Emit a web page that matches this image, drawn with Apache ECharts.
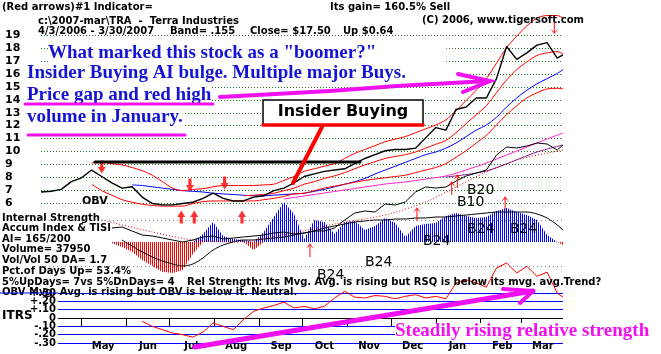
<!DOCTYPE html>
<html>
<head>
<meta charset="utf-8">
<title>TRA - Terra Industries</title>
<script src="https://cdn.jsdelivr.net/npm/echarts@6/dist/echarts.min.js"></script>
<style>
html,body{margin:0;padding:0;background:#fff;}
#chart{width:661px;height:354px;}
</style>
</head>
<body>
<div id="chart"></div>
<script>
// weekly samples, 4/3/2006 - 3/30/2007
var weeks = ['2006-04-03','2006-04-10','2006-04-17','2006-04-24','2006-05-01','2006-05-08','2006-05-15','2006-05-22','2006-05-29','2006-06-05',
  '2006-06-12','2006-06-19','2006-06-26','2006-07-03','2006-07-10','2006-07-17','2006-07-24','2006-07-31','2006-08-07','2006-08-14',
  '2006-08-21','2006-08-28','2006-09-04','2006-09-11','2006-09-18','2006-09-25','2006-10-02','2006-10-09','2006-10-16','2006-10-23',
  '2006-10-30','2006-11-06','2006-11-13','2006-11-20','2006-11-27','2006-12-04','2006-12-11','2006-12-18','2006-12-25','2007-01-01',
  '2007-01-08','2007-01-15','2007-01-22','2007-01-29','2007-02-05','2007-02-12','2007-02-19','2007-02-26','2007-03-05','2007-03-12',
  '2007-03-19','2007-03-26','2007-03-30'];

var price = [6.85,6.9,7.05,7.65,7.95,8.55,8.05,7.55,7.15,7.25,
  6.45,5.95,5.85,5.85,5.95,6.05,6.35,6.75,6.35,6.15,
  6.15,6.45,6.55,6.95,7.15,7.55,8.05,8.25,8.45,8.55,
  8.65,9.05,9.45,9.75,10.05,10.15,10.15,10.25,11.05,11.85,
  11.65,13.25,13.45,14.15,14.15,15.65,18.15,17.15,17.65,18.25,
  18.45,17.25,17.5];

var bandUpper = [null,null,null,null,null,9.1,9.15,9.05,8.95,8.75,
  8.5,8.15,7.65,7.15,6.95,7.05,7.1,7.25,7.35,7.35,
  7.35,7.35,7.4,7.45,7.75,8.05,8.45,8.65,8.85,9.05,
  9.45,9.85,10.15,10.45,10.75,10.95,11.15,11.45,11.75,12.05,
  12.45,13.15,13.95,14.75,15.65,16.85,18.05,18.95,19.75,20.35,
  20.55,20.55,20.35];

var bandLower = [null,null,null,null,null,7.45,6.95,6.6,6.25,6.05,
  5.9,5.8,5.75,5.75,5.75,5.95,6.1,6.15,6.15,6.15,
  6.15,6.15,6.25,6.35,6.5,6.7,6.75,6.95,7.15,7.3,
  7.45,7.6,7.75,7.85,7.95,8.05,8.15,8.35,8.55,8.75,
  9.05,9.55,10.05,10.65,11.25,12.05,12.85,13.55,14.15,14.55,
  14.85,14.9,14.85];

var ma21 = [null,null,null,null,null,null,null,null,null,null,
  null,null,null,null,null,null,null,null,null,null,
  6.55,6.6,6.65,6.75,6.95,7.15,7.45,7.65,7.9,8.1,
  8.35,8.65,8.95,9.2,9.45,9.6,9.75,9.95,10.25,10.55,
  10.85,11.45,12.15,12.85,13.55,14.55,15.55,16.35,16.95,17.45,
  17.65,17.75,17.55];

var ma50 = [null,null,null,null,null,null,null,null,null,7.4,
  7.35,7.25,7.15,7.05,6.95,6.9,6.85,6.75,6.7,6.65,
  6.6,6.55,6.55,6.6,6.65,6.7,6.75,6.9,7.05,7.25,
  7.45,7.65,7.9,8.25,8.55,8.85,9.15,9.45,9.75,9.95,
  10.25,10.65,11.15,11.65,12.05,12.65,13.45,14.15,14.75,15.25,
  15.65,16.05,16.35];

// accumulation index (stripes) and the internal strength lines
var accum = [null,null,null,null,null,null,null,-1,-5,-10,
  -18,-24,-30,-31,-28,-12,8,20,6,3,
  2,-8,10,25,40,28,3,22,20,8,
  20,21,12,16,24,19,5,16,18,19,
  26,29,26,24,25,31,34,30,27,22,
  7,0,-3];

var tisi = [null,null,null,null,null,null,null,14,15,11,
  7,6,4,2,0,2,5,6,3,4,
  5,6,7,9,10,8,9,11,11,14,
  22,29,31,30,38,37,40,50,55,54,
  55,61,66,69,72,87,95,94,96,99,
  98,92,97];

var tisiAvg = [null,null,null,null,null,null,null,null,2,-4,
  -10,-15,-19,-22,-24,-22,-16,-8,-3,0,
  2,2,3,4,5,7,9,11,14,16,
  18,20,21,22,22,23,23,24,24,25,
  25,26,27,28,29,30,30,30,30,28,
  24,17,12];

var obvAvg = [null,null,null,null,null,null,22,null,null,null,
  null,10,null,null,null,2,null,null,null,0,
  null,null,null,null,7,null,null,null,null,18,
  null,null,null,null,27,null,null,null,40,null,
  null,55,null,null,70,null,null,82,null,null,
  null,null,92];

var pinkLine = [null,null,null,null,null,null,null,null,null,null,
  null,null,null,null,null,null,null,null,null,null,
  null,null,null,null,43,null,46,null,49,null,
  52,null,55,null,58,null,60,null,63,null,
  66,null,72,null,79,null,87,null,95,null,
  103,null,109];

var purpleLine = [null,null,null,null,null,null,null,null,null,null,
  null,null,null,null,null,null,null,null,null,null,
  null,null,null,null,null,null,null,null,null,null,
  null,null,null,null,null,null,null,null,null,null,
  65,null,null,null,71,null,null,null,null,90,
  null,null,97];

var itrs = [null,null,null,null,null,null,null,null,null,null,
  -0.04,-0.10,-0.14,-0.18,-0.20,-0.23,-0.17,-0.06,-0.10,-0.14,
  -0.02,0.08,0.12,0.15,0.19,0.12,0.14,0.11,0.14,0.24,
  0.32,0.25,0.24,0.27,0.26,0.23,0.26,0.28,0.24,0.26,
  0.23,0.42,0.46,0.42,0.37,0.60,0.66,0.54,0.62,0.50,
  0.55,0.30,0.25];

// signal arrows
var bigUpDates = ['2006-07-09','2006-07-18','2006-08-20'];
var bigUpVals = [4.91,4.91,4.91];
var bigDownDates = ['2006-05-15','2006-07-15','2006-08-08'];
var bigDownVals = [8.79,7.39,7.55];
var thinUpDates = ['2006-10-06','2006-12-19','2007-01-12','2007-01-16','2007-02-18'];
var thinUpVals = [2.35,5.14,7.16,7.7,6.0];
var thinDownDates = ['2007-03-24'];
var thinDownVals = [19.58];

var monthStarts = ['2006-05-01','2006-06-01','2006-07-01','2006-08-01','2006-09-01','2006-10-01',
  '2006-11-01','2006-12-01','2007-01-01','2007-02-01','2007-03-01'];
var monthNames = ['May','Jun','Jul','Aug','Sep','Oct','Nov','Dec','Jan','Feb','Mar'];
var itrsTicks = [-0.3,-0.2,-0.1,0,0.1,0.2,0.3];
var itrsTickText = ['-.30','-.20','-.10','0','+.10','+.20','+.30'];

var t0 = Date.parse(weeks[0]);
function day(s){ return (Date.parse(s) - t0) / 86400000; }
function pts(vals){
  var out = [];
  weeks.forEach(function(w, i){ if (vals[i] != null) out.push([day(w), vals[i]]); });
  return out;
}
function pairsOf(ds, vs){ return ds.map(function(d, i){ return [day(d), vs[i]]; }); }
function stripes(color){
  var c = document.createElement('canvas');
  c.width = 2; c.height = 2;
  var g = c.getContext('2d');
  g.fillStyle = color; g.fillRect(0, 0, 1, 2);
  return {image: c, repeat: 'repeat'};
}
function itrsLabel(v){
  var i = itrsTicks.findIndex(function(t){ return Math.abs(t - v) < 1e-6; });
  return i < 0 ? '' : itrsTickText[i];
}

var tickDays = monthStarts.map(day);
var labelDays = tickDays.map(function(d){ return d + 15; });
var endDay = day(weeks[weeks.length - 1]);

var B10 = 'bold 10px "DejaVu Sans"';
var SERIF = 'bold 19px "Liberation Serif"';
var BLUE = '#1414d2';
var MAG = '#f010f0';
function txt(x, y, s, extra, z){
  return {type: 'text', x: x, y: y, z: z || 5,
    style: Object.assign({text: s, font: B10, fill: '#000', verticalAlign: 'middle'}, extra || {})};
}
function seg(x1, y1, x2, y2, color, w, z){
  return {type: 'line', z: z || 60, shape: {x1: x1, y1: y1, x2: x2, y2: y2},
    style: {stroke: color, lineWidth: w, lineCap: 'round'}};
}
function line(data, color, opts){
  return Object.assign({type: 'line', data: data, showSymbol: false, clip: false, silent: true,
    lineStyle: {color: color, width: 1}}, opts || {});
}
var itrsLabelStyle = {margin: 2, color: '#000', fontFamily: 'DejaVu Sans', fontWeight: 'bold', fontSize: 10,
  showMinLabel: true, showMaxLabel: true, hideOverlap: false, formatter: itrsLabel};

var chart = echarts.init(document.getElementById('chart'));
chart.setOption({
  animation: false,
  backgroundColor: '#fff',
  grid: [
    {left: 41, right: 98, top: 35.5, height: 167.4},
    {left: 41, right: 98, top: 122, height: 160},
    {left: 58, right: 98, top: 293, height: 50}
  ],
  xAxis: [
    {type: 'value', gridIndex: 0, min: 0, max: endDay, show: false},
    {type: 'value', gridIndex: 1, min: 0, max: endDay, show: false},
    {type: 'value', gridIndex: 2, min: 11.76, max: endDay, position: 'bottom', offset: -3,
      axisLine: {show: false}, splitLine: {show: false},
      axisTick: {show: true, length: 8, customValues: tickDays, lineStyle: {color: '#000'}},
      axisLabel: {customValues: labelDays, margin: 1, color: '#000',
        fontFamily: 'DejaVu Sans', fontWeight: 'bold', fontSize: 10,
        formatter: function(v){ return monthNames[labelDays.indexOf(v)] || ''; }}}
  ],
  yAxis: [
    {type: 'value', gridIndex: 0, min: 6, max: 19, interval: 1,
      axisLine: {show: false}, axisTick: {show: false},
      axisLabel: {align: 'left', margin: 36, padding: [9, 0, 0, 0], color: '#000',
        fontFamily: 'DejaVu Sans', fontWeight: 'bold', fontSize: 11},
      splitLine: {show: true, lineStyle: {color: '#1c7c1c', type: [1, 2], width: 1}}},
    {type: 'value', gridIndex: 1, min: -40, max: 120, show: false, splitLine: {show: false}},
    // ITRS: two label layers so the tightly packed tick labels all stay visible
    {type: 'value', gridIndex: 2, min: -0.3, max: 0.3, interval: 0.1, position: 'left',
      axisLine: {show: false}, axisTick: {show: false},
      axisLabel: Object.assign({customValues: [-0.3, -0.1, 0.1, 0.3]}, itrsLabelStyle),
      splitLine: {show: true, lineStyle: {width: 1,
        color: ['#0000ff','#0000ff','#0000ff','#000000','#0000ff','#0000ff','#0000ff']}}},
    {type: 'value', gridIndex: 2, min: -0.3, max: 0.3, interval: 0.1, position: 'left', offset: 0,
      axisLine: {show: false}, axisTick: {show: false}, splitLine: {show: false},
      axisLabel: Object.assign({customValues: [-0.2, 0, 0.2]}, itrsLabelStyle)}
  ],
  series: [
    // accumulation index stripes
    line(pts(accum.map(function(v){ return v == null ? null : Math.max(v, 0); })), '#0000ff', {
      xAxisIndex: 1, yAxisIndex: 1, z: 1, lineStyle: {opacity: 0},
      areaStyle: {color: stripes('#0000ff'), opacity: 1},
      markLine: {silent: true, symbol: 'none', label: {show: false},
        lineStyle: {color: '#888', type: [1, 3], width: 1},
        data: [{yAxis: 22}, {yAxis: -24}]}}),
    line(pts(accum.map(function(v){ return v == null ? null : Math.min(v, 0); })), '#ff0000', {
      xAxisIndex: 1, yAxisIndex: 1, z: 1, lineStyle: {opacity: 0},
      areaStyle: {color: stripes('#ff0000'), opacity: 1}}),
    line(pts(tisiAvg), '#000', {xAxisIndex: 1, yAxisIndex: 1, smooth: 0.3}),
    line(pts(obvAvg), '#e00000', {xAxisIndex: 1, yAxisIndex: 1, smooth: 0.3,
      lineStyle: {color: '#e00000', width: 1, type: [1, 2]}}),
    line(pts(pinkLine), '#ff22cc', {xAxisIndex: 1, yAxisIndex: 1, smooth: 0.3}),
    line(pts(purpleLine), '#8a1a8a', {xAxisIndex: 1, yAxisIndex: 1, smooth: 0.3}),
    line(pts(tisi), '#000', {xAxisIndex: 1, yAxisIndex: 1}),

    // price panel
    line(pts(ma50), '#0000ff', {xAxisIndex: 0, yAxisIndex: 0, smooth: 0.3}),
    line(pts(bandLower), '#ff0000', {xAxisIndex: 0, yAxisIndex: 0, smooth: 0.3}),
    line(pts(ma21), '#ff0000', {xAxisIndex: 0, yAxisIndex: 0, smooth: 0.3}),
    line(pts(bandUpper), '#ff0000', {xAxisIndex: 0, yAxisIndex: 0, smooth: 0.3}),
    line(pts(price), '#000', {xAxisIndex: 0, yAxisIndex: 0, z: 4, lineStyle: {color: '#000', width: 1.4}}),

    {type: 'scatter', xAxisIndex: 0, yAxisIndex: 0, clip: false, silent: true, z: 6,
      symbol: 'path://M5,0 L10,7 L7,7 L7,14 L3,14 L3,7 L0,7 Z', symbolSize: [8, 13],
      itemStyle: {color: '#ff0000'}, data: pairsOf(bigUpDates, bigUpVals)},
    {type: 'scatter', xAxisIndex: 0, yAxisIndex: 0, clip: false, silent: true, z: 6,
      symbol: 'path://M5,0 L10,7 L7,7 L7,14 L3,14 L3,7 L0,7 Z', symbolSize: [8, 13], symbolRotate: 180,
      itemStyle: {color: '#ff0000'}, data: pairsOf(bigDownDates, bigDownVals)},
    {type: 'scatter', xAxisIndex: 0, yAxisIndex: 0, clip: false, silent: true, z: 6,
      symbol: 'path://M4,0 L8,6 L4.6,3 L4.6,14 L3.4,14 L3.4,3 L0,6 Z', symbolSize: [8, 14],
      itemStyle: {color: '#ff0000'}, data: pairsOf(thinUpDates, thinUpVals)},
    {type: 'scatter', xAxisIndex: 0, yAxisIndex: 0, clip: false, silent: true, z: 6,
      symbol: 'path://M4,0 L8,6 L4.6,3 L4.6,14 L3.4,14 L3.4,3 L0,6 Z', symbolSize: [8, 12], symbolRotate: 180,
      itemStyle: {color: '#ff0000'}, data: pairsOf(thinDownDates, thinDownVals)},

    // relative strength
    line(pts(itrs), '#ff0000', {xAxisIndex: 2, yAxisIndex: 2, z: 4})
  ],
  graphic: [
    txt(2, 7, '(Red arrows)#1 Indicator='),
    txt(330, 7, 'Its gain= 160.5% Sell'),
    txt(38, 21, 'c:\\2007-mar\\TRA  -  Terra Industries'),
    txt(422, 20, '(C) 2006, www.tigersoft.com'),
    txt(38, 31, '4/3/2006 - 3/30/2007'),
    txt(170, 31, 'Band= .155'),
    txt(250, 31, 'Close= $17.50'),
    txt(343, 31, 'Up $0.64'),

    txt(48, 53.5, 'What marked this stock as a "boomer?"', {font: SERIF, fill: BLUE, backgroundColor: '#fff', padding: [0, 70, 0, 0]}, 50),
    txt(27, 73, 'Insider Buying AI bulge. Multiple major Buys.', {font: SERIF, fill: BLUE, backgroundColor: '#fff', padding: [0, 58, 0, 0]}, 50),
    txt(27, 95, 'Price gap and red high', {font: SERIF, fill: BLUE, backgroundColor: '#fff'}, 50),
    txt(27, 117, 'volume in January.', {font: SERIF, fill: BLUE, backgroundColor: '#fff'}, 50),
    seg(25, 104, 213, 104, MAG, 3),
    seg(28, 135, 185, 135, MAG, 3),
    {type: 'polyline', z: 60, shape: {points: [[220, 97], [330, 91], [397, 86], [488, 81]]},
      style: {stroke: MAG, lineWidth: 4, fill: null, lineCap: 'round'}},
    {type: 'polyline', z: 60, shape: {points: [[458, 74], [490, 81], [463, 92]]},
      style: {stroke: MAG, lineWidth: 4, fill: null, lineCap: 'round'}},

    {type: 'rect', z: 55, shape: {x: 263, y: 100, width: 160, height: 25},
      style: {fill: '#fff', stroke: '#000', lineWidth: 1.5}},
    txt(343, 111.5, 'Insider Buying', {font: 'bold 16px "DejaVu Sans"', align: 'center'}, 57),
    seg(263, 125, 423, 125, '#ff0000', 3.5, 56),
    seg(322, 127, 293, 183, '#ff0000', 4, 56),
    seg(95, 162, 360, 162, '#000', 3, 20),

    txt(82, 201, 'OBV', {font: 'bold 11px "DejaVu Sans"'}),
    txt(2, 218, 'Internal Strength'),
    txt(2, 228.5, 'Accum Index & TISI'),
    txt(2, 239, 'AI= 165/200'),
    txt(2, 249.5, 'Volume= 37950'),
    txt(2, 260.5, 'Vol/Vol 50 DA= 1.7'),
    txt(2, 271, 'Pct.of Days Up= 53.4%'),
    txt(2, 282, '5%UpDays= 7vs 5%DnDays= 4'),
    txt(187, 282, 'Rel Strength: Its Mvg. Avg. is rising but RSQ is below its mvg. avg.Trend?'),
    txt(2, 292.5, 'OBV Mvg. Avg. is rising but OBV is below it. Neutral.'),
    seg(0, 293, 58, 293, '#0000ff', 1, 10),
    txt(2, 316, 'ITRS', {font: 'bold 12px "DejaVu Sans"'}),

    txt(467, 190, 'B20', {font: '14px "DejaVu Sans"'}, 40),
    txt(457, 202, 'B10', {font: '14px "DejaVu Sans"'}, 40),
    txt(423, 241, 'B24', {font: '14px "DejaVu Sans"'}, 40),
    txt(467, 229, 'B24', {font: '14px "DejaVu Sans"'}, 40),
    txt(510, 229, 'B24', {font: '14px "DejaVu Sans"'}, 40),
    txt(365, 262, 'B24', {font: '14px "DejaVu Sans"'}, 40),
    txt(317, 275, 'B24', {font: '14px "DejaVu Sans"'}, 40),

    txt(395, 331, 'Steadily rising relative strength', {font: SERIF, fill: MAG, backgroundColor: '#fff', lineHeight: 16, padding: [0, 2, 0, 0]}, 50),
    seg(195, 347, 533, 291, MAG, 5, 65),
    seg(503, 289, 533, 291, MAG, 4, 65),
    seg(520, 303, 533, 291, MAG, 4, 65)
  ]
});
</script>
</body>
</html>
